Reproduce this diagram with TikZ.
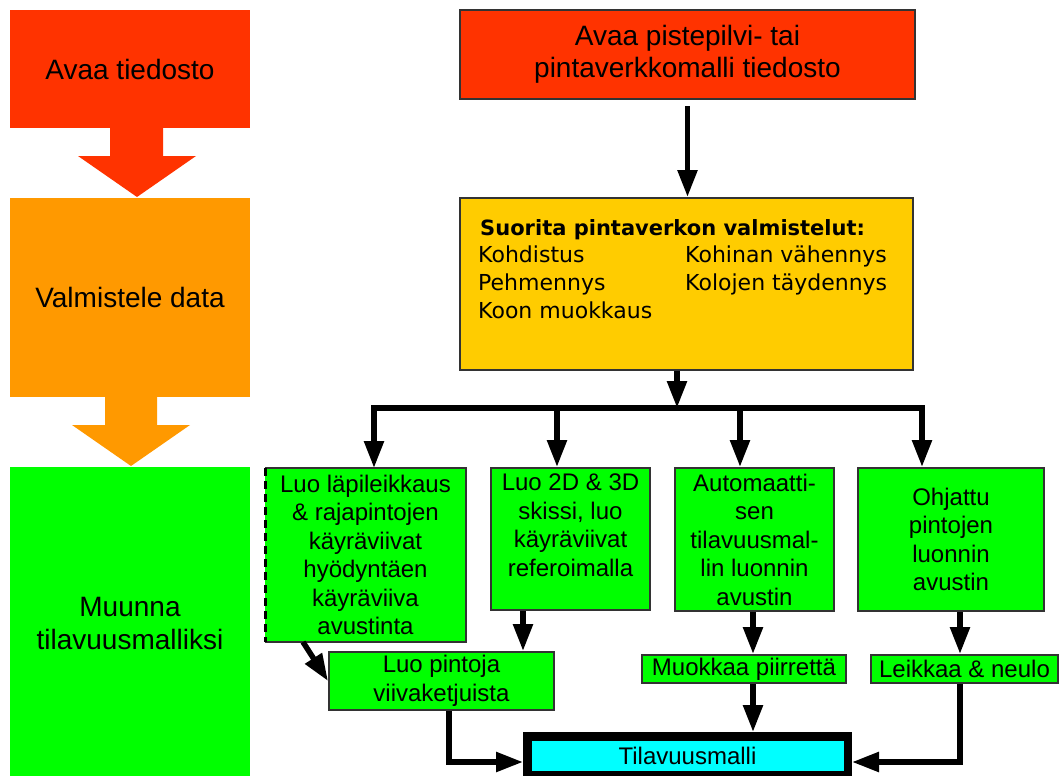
\documentclass[tikz,border=0pt]{standalone}
\usepackage{fontspec}
\setmainfont{Liberation Sans}
\newfontfamily\dvs{DejaVu Sans}
\usetikzlibrary{arrows.meta,calc}
\definecolor{cRed}{HTML}{FF3300}
\definecolor{cOrange}{HTML}{FF9900}
\definecolor{cYellow}{HTML}{FFCC00}
\definecolor{cGreen}{HTML}{00FF00}
\definecolor{cCyan}{HTML}{00FFFF}
\definecolor{cBorder}{HTML}{333333}
\begin{document}
\begin{tikzpicture}[x=1pt,y=-1pt,
  phase/.style={rectangle, draw=none, inner sep=0pt, outer sep=0pt, align=center, font=\fontsize{28}{32.5}\selectfont, minimum width=240pt},
  box/.style={rectangle, draw=cBorder, line width=2pt, inner sep=0pt, align=center},
  gbox/.style={box, fill=cGreen, font=\fontsize{24}{28.5}\selectfont},
  gtxt/.style={inner sep=0pt, align=center, font=\fontsize{24}{28.5}\selectfont},
  arr/.style={line width=5.5pt, -{Triangle[length=27pt,width=19pt]}},
  plain/.style={line width=5.5pt},
  ytxt/.style={anchor=base west, inner sep=0pt, font=\dvs\fontsize{22}{26}\selectfont}]
\useasboundingbox (0,0) rectangle (1060,776);
\clip (0,0) rectangle (1060,776);

% left phase column
\node[phase, fill=cRed, minimum height=118pt] (A1) at (130,69) {Avaa tiedosto};
\node[phase, fill=cOrange, minimum height=199pt] (A2) at (130,297.5) {Valmistele data};
\node[phase, fill=cGreen, minimum height=313pt] (A3) at (130,623.5) {Muunna\\tilavuusmalliksi};
\fill[cRed] (110,127) -- (163,127) -- (163,156) -- (196,156) -- (137,197) -- (78,156) -- (110,156) -- cycle;
\fill[cOrange] (105,396) -- (157,396) -- (157,425) -- (190,425) -- (131,466) -- (72,425) -- (105,425) -- cycle;

% top
\node[box, fill=cRed, minimum width=455pt, minimum height=89pt, font=\fontsize{28}{32.5}\selectfont] (T1) at (687.5,54.5) {Avaa pistepilvi- tai\\pintaverkkomalli tiedosto};
\node[box, fill=cYellow, minimum width=453pt, minimum height=172pt] (Y) at (686.5,284) {};
\node[ytxt, font=\dvs\bfseries\fontsize{21}{25}\selectfont] (Yh) at (480,235) {Suorita pintaverkon valmistelut:};
\node[ytxt] (Y1) at (478,262) {Kohdistus};
\node[ytxt] (Y2) at (478,290) {Pehmennys};
\node[ytxt] (Y3) at (478,318) {Koon muokkaus};
\node[ytxt] (Y4) at (685,262) {Kohinan vähennys};
\node[ytxt] (Y5) at (685,290) {Kolojen täydennys};

\draw[arr, shorten <=6pt] (T1.south) -- (T1.south |- Y.north);

% green boxes
\node[gbox, draw=none, outer sep=0pt, minimum width=201pt, minimum height=174pt] (G1) at (365.5,555) {Luo läpileikkaus\\\& rajapintojen\\käyräviivat\\hyödyntäen\\käyräviiva\\avustinta};
\draw[cBorder, line width=2pt] (G1.south west) -- (G1.south east) -- (G1.north east) -- (G1.north west);
\draw[black, line width=3pt, dash pattern=on 8pt off 5pt] (G1.north west) -- (G1.south west);
\node[gbox, minimum width=159pt, minimum height=142pt] (G2) at (570.5,539) {};
\node[gtxt] (G2t) at (570.5,525) {Luo 2D \& 3D\\skissi, luo\\käyräviivat\\referoimalla};
\node[gbox, minimum width=159pt, minimum height=143pt] (G3) at (754.5,539.5) {Automaatti-\\sen\\tilavuusmal-\\lin luonnin\\avustin};
\node[gbox, minimum width=186pt, minimum height=143pt] (G4) at (951,539.5) {Ohjattu\\pintojen\\luonnin\\avustin};

\node[gbox, minimum width=225pt, minimum height=58pt] (L1) at (441.5,681) {Luo pintoja\\viivaketjuista};
\node[gbox, minimum width=204pt, minimum height=28pt] (L2) at (744,669) {Muokkaa piirrettä};
\node[gbox, minimum width=187pt, minimum height=28pt] (L3) at (964.5,669) {Leikkaa \& neulo};

\node[rectangle, draw=black, line width=8.5pt, fill=cCyan, minimum width=320.5pt, minimum height=38.5pt, inner sep=0pt, font=\fontsize{24}{28}\selectfont] (TV) at (687.5,755.5) {Tilavuusmalli};

% bus
\coordinate (bc) at (677,408);
\coordinate (b1) at (374,408);
\coordinate (b2) at (557,408);
\coordinate (b3) at (740,408);
\coordinate (b4) at (922,408);
\draw[arr] (Y.south -| bc) -- (bc);
\draw[plain, line cap=rect] (b1) -- (b4);
\draw[arr] (b1) -- (b1 |- G1.north);
\draw[arr] (b2) -- (b2 |- G2.north);
\draw[arr] (b3) -- (b3 |- G3.north);
\draw[arr] (b4) -- (b4 |- G4.north);

% lower connectors
\coordinate (x523) at (523,0);
\coordinate (x753) at (753,0);
\coordinate (x960) at (960,0);
\coordinate (x449) at (449,0);
\coordinate (tvy) at (0,762);
\draw[arr] ([xshift=-62.5pt]G1.south) -- (L1.west);
\draw[arr] (G2.south -| x523) -- (L1.north -| x523);
\draw[arr] (G3.south -| x753) -- (L2.north -| x753);
\draw[arr] (G4.south -| x960) -- (L3.north -| x960);
\draw[arr] (L1.south -| x449) -- (x449 |- tvy) -- (TV.west |- tvy);
\draw[arr] (L2.south -| x753) -- (TV.north -| x753);
\draw[arr] (L3.south -| x960) -- (x960 |- tvy) -- (TV.east |- tvy);
\end{tikzpicture}
\end{document}
